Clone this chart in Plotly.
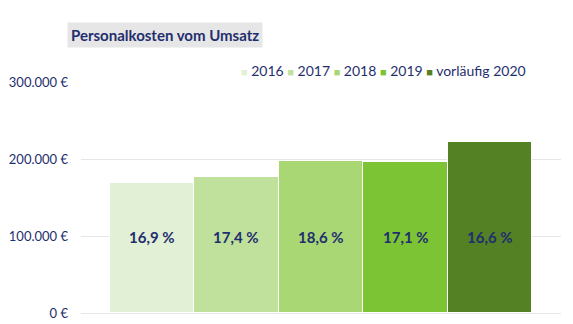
import plotly.graph_objects as go

# Personnel costs per year and their share of revenue
years = ["2016", "2017", "2018", "2019", "vorläufig 2020"]
kosten = [169000, 176000, 197500, 196000, 222000]
anteil = ["16,9 %", "17,4 %", "18,6 %", "17,1 %", "16,6 %"]
farben = ["#E2F0D5", "#C0E19C", "#A9D774", "#7DC435", "#548124"]

y_ticks = [0, 100000, 200000, 300000]
y_tick_text = ["0 €", "100.000 €", "200.000 €", "300.000 €"]

navy = "#1F2F6E"
font_family = "Lato, Open Sans, sans-serif"

fig = go.Figure()
for i, (jahr, wert, farbe) in enumerate(zip(years, kosten, farben)):
    fig.add_trace(go.Bar(
        x=[i], y=[wert], name=jahr, width=1,
        marker=dict(color=farbe, line=dict(color="white", width=1)),
        showlegend=False,
    ))
    fig.add_annotation(
        x=i, y=99000, text=f"<b>{anteil[i]}</b>", showarrow=False,
        font=dict(size=15, color=navy, family=font_family),
    )

# Legend row made of coloured squares and year labels
legend_text = " ".join(
    f"<span style='color:{c};font-size:11px'>■</span> {j}" for j, c in zip(years, farben)
)
fig.add_annotation(
    xref="paper", yref="paper", x=0.931, y=1.048, xanchor="right", yanchor="middle",
    text=legend_text, showarrow=False,
    font=dict(size=14, color=navy, family=font_family),
)

# Title with grey background
fig.add_annotation(
    xref="paper", yref="paper", x=-0.029, y=1.2056, xanchor="left", yanchor="middle",
    text="<b>Personalkosten vom Umsatz</b>", showarrow=False,
    font=dict(size=15, color=navy, family=font_family),
    bgcolor="#E7E6E6", borderpad=3,
)

fig.update_layout(
    width=573, height=324,
    margin=dict(l=81, r=12, t=82, b=11, autoexpand=False),
    paper_bgcolor="white", plot_bgcolor="white",
    bargap=0, showlegend=False,
    xaxis=dict(range=[-0.837, 4.837], showticklabels=False, showgrid=False,
               zeroline=False, fixedrange=True, automargin=False),
    yaxis=dict(range=[0, 300000], tickvals=y_ticks, ticktext=y_tick_text,
               showgrid=True, gridcolor="#E6E6E6", gridwidth=1,
               zeroline=True, zerolinecolor="#E6E6E6", zerolinewidth=1,
               ticklabelstandoff=12, automargin=False,
               tickfont=dict(size=13, color=navy, family=font_family)),
)

fig.write_html("out.html")
